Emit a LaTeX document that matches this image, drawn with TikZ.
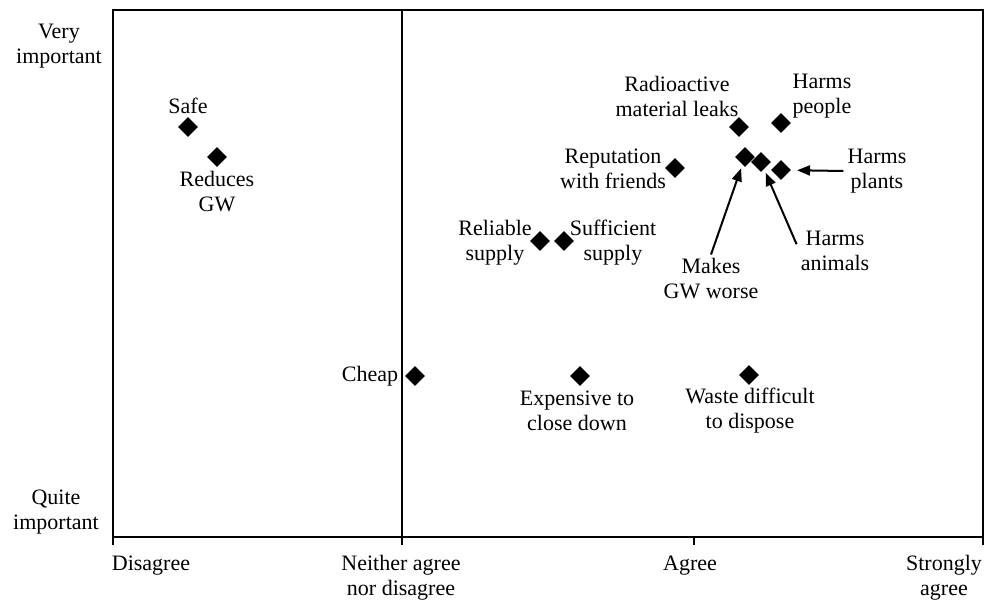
\documentclass[tikz,border=0pt]{standalone}
\usepackage{fontspec}
\setmainfont{Liberation Serif}
\usetikzlibrary{shapes.geometric,arrows.meta}

\begin{document}
\begin{tikzpicture}[x=1pt,y=-1pt,
    point/.style={diamond, fill=black, inner sep=0pt, minimum size=20pt},
    lbl/.style={align=center, inner sep=4pt, font=\fontsize{22}{25}\selectfont},
    arr/.style={line width=2pt, -{Triangle[length=13pt,width=10pt]}, shorten >=4pt},
    axis/.style={line width=2pt}]

    \useasboundingbox (0,0) rectangle (985,603);

    % Frame with middle line
    \draw[axis] (113,10) rectangle (983,537);
    \draw[axis] (402,10) -- (402,545);

    % Ticks
    \draw[axis] (113,537) -- (113,545);
    \draw[axis] (694,537) -- (694,545);
    \draw[axis] (983,537) -- (983,545);

    % Axis labels
    \node[lbl] (very_imp) at (59,46) {Very\\important};
    \node[lbl] (quite_imp) at (56,512) {Quite\\important};
    \node[lbl] (disagree) at (151,566) {Disagree};
    \node[lbl] (neither) at (401,578) {Neither agree\\nor disagree};
    \node[lbl] (agree) at (690,566) {Agree};
    \node[lbl] (strongly) at (944,578) {Strongly\\agree};

    % Points on the left
    \node[point] (safe_pt) at (188,127) {};
    \node[lbl] (safe_lbl) at (188,106) {Safe};
    \node[point] (gw_pt) at (217,157) {};
    \node[lbl] (gw_lbl) at (217,192) {Reduces\\GW};

    % Points at the bottom
    \node[point] (cheap_pt) at (415,376) {};
    \node[lbl] (cheap_lbl) at (370,376) {Cheap};
    \node[point] (close_pt) at (580,376) {};
    \node[lbl] (close_lbl) at (577,411) {Expensive to\\close down};
    \node[point] (waste_pt) at (749,375) {};
    \node[lbl] (waste_lbl) at (750,411) {Waste difficult\\to dispose};

    % Supply
    \node[point] (rel_pt) at (540,241) {};
    \node[lbl] (rel_lbl) at (495,243) {Reliable\\supply};
    \node[point] (suff_pt) at (564,241) {};
    \node[lbl] (suff_lbl) at (613,243) {Sufficient\\supply};

    % Points at the top
    \node[point] (rep_pt) at (675,168) {};
    \node[lbl] (rep_lbl) at (613,169) {Reputation\\with friends};
    \node[point] (leak_pt) at (739,127) {};
    \node[lbl] (leak_lbl) at (677,96) {Radioactive\\material leaks};
    \node[point] (people_pt) at (781,123) {};
    \node[lbl] (people_lbl) at (822,96) {Harms\\people};

    % Cluster with arrows
    \node[point] (worse_pt) at (745,157) {};
    \node[point] (animals_pt) at (761,162) {};
    \node[point] (plants_pt) at (781,170) {};
    \node[lbl] (worse_lbl) at (711,279) {Makes\\GW worse};
    \node[lbl] (animals_lbl) at (835,251) {Harms\\animals};
    \node[lbl] (plants_lbl) at (877,171) {Harms\\plants};

    \draw[arr] (worse_lbl.north) -- (worse_pt);
    \draw[arr] (animals_lbl.170) -- (animals_pt);
    \draw[arr, shorten >=6pt] (plants_lbl.west) -- (plants_pt);

\end{tikzpicture}
\end{document}
